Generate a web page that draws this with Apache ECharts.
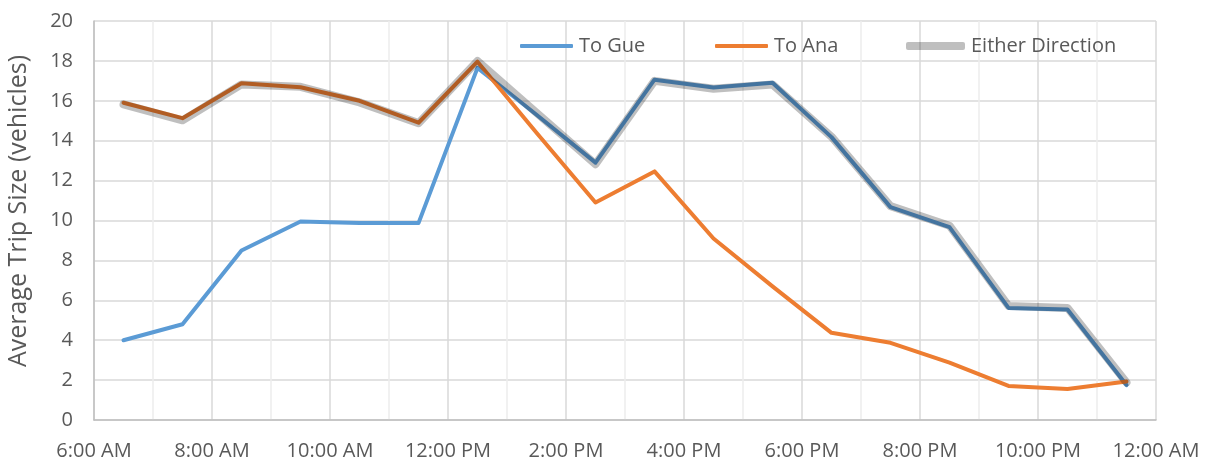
<!DOCTYPE html>
<html>
<head>
<meta charset="utf-8">
<script src="https://cdn.jsdelivr.net/npm/echarts@6/dist/echarts.min.js"></script>
<style>
    html, body { margin: 0; padding: 0; background: #fff; }
    #chart { width: 1211px; height: 461px; }
</style>
</head>
<body>
<div id="chart"></div>
<script>
// half-hour points, 6:30 AM .. 11:30 PM
const hours = [6.5, 7.5, 8.5, 9.5, 10.5, 11.5, 12.5, 13.5, 14.5, 15.5, 16.5, 17.5, 18.5, 19.5, 20.5, 21.5, 22.5, 23.5];
const toGue = [4.0, 4.8, 8.5, 9.95, 9.87, 9.87, 17.65, 15.3, 12.9, 17.06, 16.67, 16.9, 14.18, 10.67, 9.67, 5.62, 5.54, 1.75];
const toAna = [15.9, 15.13, 16.88, 16.68, 16.0, 14.9, 17.96, 14.4, 10.9, 12.46, 9.1, 6.7, 4.37, 3.87, 2.88, 1.71, 1.55, 1.93];
const either = [15.82, 15.02, 16.82, 16.7, 15.92, 14.88, 18.0, 15.4, 12.82, 17.0, 16.6, 16.82, 14.2, 10.72, 9.74, 5.72, 5.62, 1.88];
const xTickLabels = ['6:00 AM', '8:00 AM', '10:00 AM', '12:00 PM', '2:00 PM', '4:00 PM', '6:00 PM', '8:00 PM', '10:00 PM', '12:00 AM'];
const seriesNames = ['To Gue', 'To Ana', 'Either Direction'];

const font = '"Open Sans", "Noto Sans", sans-serif';
const textColor = '#595959';

function pairs(values) {
    return hours.map((h, i) => [h, values[i]]);
}

const myChart = echarts.init(document.getElementById('chart'));

const legendText = { color: textColor, fontFamily: font, fontSize: 20, padding: [0, 0, 0, 1] };

let option = {
    animation: false,
    grid: { left: 94, right: 55, top: 21, bottom: 38 },
    legend: [
        { data: [seriesNames[0]], icon: 'roundRect', left: 515, top: 31, itemWidth: 53, itemHeight: 4, textStyle: legendText },
        { data: [seriesNames[1]], icon: 'roundRect', left: 710, top: 31, itemWidth: 53, itemHeight: 4, textStyle: legendText },
        { data: [seriesNames[2]], icon: 'roundRect', left: 901, top: 31, itemWidth: 59, itemHeight: 8, textStyle: legendText },
    ],
    graphic: [
        {
            type: 'text',
            x: 19,
            y: 211,
            rotation: Math.PI / 2,
            style: {
                text: 'Average Trip Size (vehicles)',
                fill: textColor,
                fontFamily: font,
                fontSize: 25,
                align: 'center',
                verticalAlign: 'middle',
            },
        },
    ],
    xAxis: {
        type: 'value',
        min: 6,
        max: 24,
        interval: 2,
        axisLine: { show: true, lineStyle: { color: '#bfbfbf', width: 1.5 } },
        axisTick: { show: false },
        minorTick: { show: false, splitNumber: 2 },
        axisLabel: {
            color: textColor,
            fontFamily: font,
            fontSize: 20,
            margin: 21,
            formatter: (v) => xTickLabels[Math.round((v - 6) / 2)],
        },
        splitLine: { show: true, lineStyle: { color: '#d9d9d9', width: 1.5 } },
        minorSplitLine: { show: true, lineStyle: { color: '#ededed', width: 1.5 } },
    },
    yAxis: {
        type: 'value',
        min: 0,
        max: 20,
        interval: 2,
        axisLine: { show: true, lineStyle: { color: '#bfbfbf', width: 1.5 } },
        axisTick: { show: false },
        axisLabel: { color: textColor, fontFamily: font, fontSize: 20, margin: 21 },
        splitLine: { show: true, lineStyle: { color: '#d9d9d9', width: 1.5 } },
    },
    series: [
        {
            name: seriesNames[0],
            type: 'line',
            data: pairs(toGue),
            showSymbol: false,
            symbol: 'none',
            color: '#5b9bd5',
            lineStyle: { color: '#5b9bd5', width: 4, cap: 'round', join: 'round' },
        },
        {
            name: seriesNames[1],
            type: 'line',
            data: pairs(toAna),
            showSymbol: false,
            symbol: 'none',
            color: '#ed7d31',
            lineStyle: { color: '#ed7d31', width: 4, cap: 'round', join: 'round' },
        },
        {
            // wide translucent band drawn over the other two
            name: seriesNames[2],
            type: 'line',
            data: pairs(either),
            showSymbol: false,
            symbol: 'none',
            color: 'rgba(0,0,0,0.25)',
            lineStyle: { color: 'rgba(0,0,0,0.25)', width: 8, cap: 'round', join: 'round' },
        },
    ],
};

myChart.setOption(option);
</script>
</body>
</html>
